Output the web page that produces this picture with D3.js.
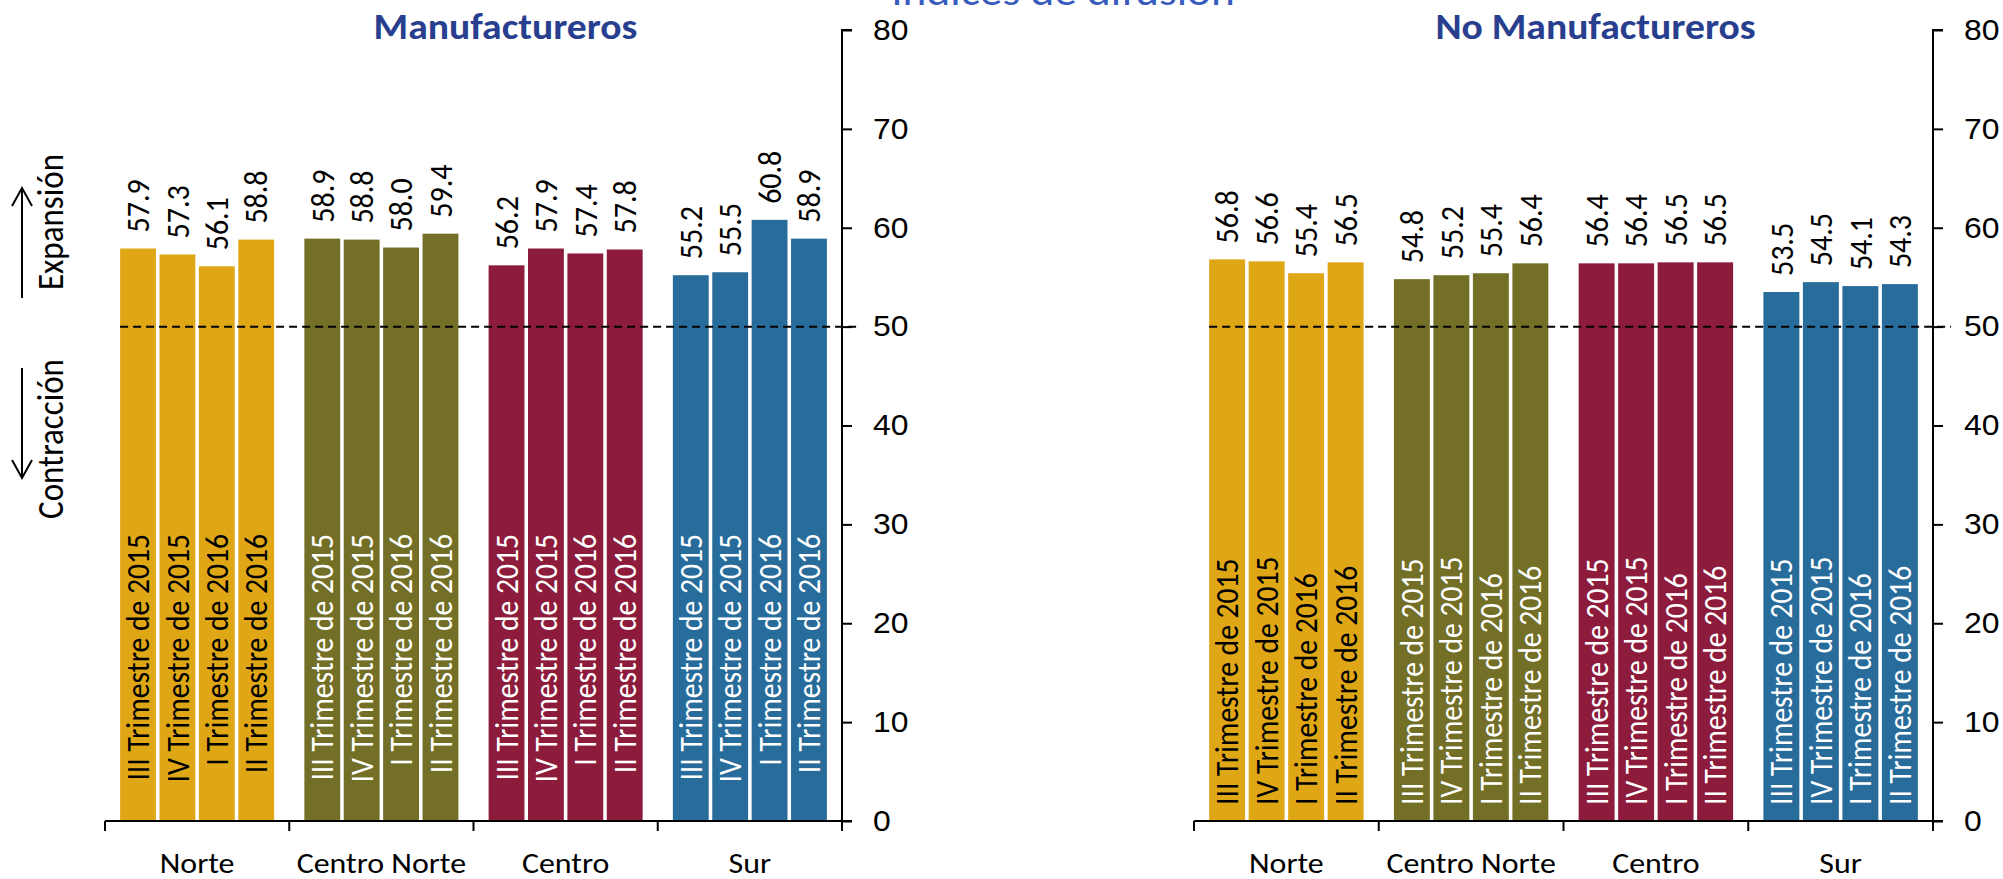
<!DOCTYPE html>
<html>
<head>
<meta charset="utf-8">
<script src="https://cdn.jsdelivr.net/npm/d3@7/dist/d3.min.js"></script>
<style>
  html, body { margin: 0; padding: 0; background: #fff; }
  svg { display: block; font-family: Carlito, Lato, "Open Sans", sans-serif; }
</style>
</head>
<body>
<svg id="chart" width="2003" height="879"></svg>
<script>
// Regions and survey periods
const regions = ["Norte", "Centro Norte", "Centro", "Sur"];
const periods = ["III Trimestre de 2015", "IV Trimestre de 2015", "I Trimestre de 2016", "II Trimestre de 2016"];

// Diffusion index by region (rows) and period (columns)
const manufValues = [
  [57.9, 57.3, 56.1, 58.8],
  [58.9, 58.8, 58.0, 59.4],
  [56.2, 57.9, 57.4, 57.8],
  [55.2, 55.5, 60.8, 58.9]
];
const noManufValues = [
  [56.8, 56.6, 55.4, 56.5],
  [54.8, 55.2, 55.4, 56.4],
  [56.4, 56.4, 56.5, 56.5],
  [53.5, 54.5, 54.1, 54.3]
];

const yTicks = [0, 10, 20, 30, 40, 50, 60, 70, 80];
const threshold = 50;

const regionFill = ["#DFA716", "#736F26", "#8D1C3C", "#286C9B"];
const regionText = ["#000000", "#ffffff", "#ffffff", "#ffffff"];
const titleBlue = "#283E8E";

// Horizontal widening applied to text so the glyph proportions read a little wider
const WIDE = 1.1;

const svg = d3.select("#chart");

// Overall title, partly above the top edge
svg.append("text")
  .attr("transform", `translate(1063,5) scale(1.08,1)`)
  .attr("text-anchor", "middle")
  .attr("font-size", 42)
  .attr("fill", "#3A5BBE")
  .text("Índices de difusión");

// Expansion / contraction guide at the left
function arrow(g, x, yFrom, yTo) {
  const dir = yTo < yFrom ? 1 : -1;
  g.append("line").attr("x1", x).attr("x2", x).attr("y1", yFrom).attr("y2", yTo)
    .attr("stroke", "#000").attr("stroke-width", 2);
  g.append("path")
    .attr("d", `M${x - 10},${yTo + dir * 18} L${x},${yTo} L${x + 10},${yTo + dir * 18}`)
    .attr("fill", "none").attr("stroke", "#000").attr("stroke-width", 2);
}
const guide = svg.append("g");
arrow(guide, 22, 298, 188);
arrow(guide, 22, 368, 478);
guide.append("text")
  .attr("transform", `translate(63,222) rotate(-90) scale(1,${WIDE})`)
  .attr("text-anchor", "middle")
  .attr("font-size", 33)
  .text("Expansión");
guide.append("text")
  .attr("transform", `translate(63,439) rotate(-90) scale(1,${WIDE})`)
  .attr("text-anchor", "middle")
  .attr("font-size", 33)
  .text("Contracción");

function drawPanel(opts) {
  const { x0, x1, values, title, inBarAnchor } = opts;
  const yTop = 30, yBottom = 821;
  const g = svg.append("g");

  const x = d3.scaleBand().domain(regions).range([x0, x1]);
  const bw = x.bandwidth();
  const xi = d3.scaleBand().domain(periods)
    .range([bw * 0.082, bw * 0.918])
    .paddingInner(0.09);
  const y = d3.scaleLinear().domain([0, 80]).range([yBottom, yTop]);

  // Title
  g.append("text")
    .attr("transform", `translate(${(x0 + x1) / 2 + 32},39) scale(${WIDE},1)`)
    .attr("text-anchor", "middle")
    .attr("font-size", 36)
    .attr("font-weight", "bold")
    .attr("fill", titleBlue)
    .text(title);

  // Bars
  const groups = g.selectAll("g.region")
    .data(regions)
    .join("g")
    .attr("class", "region")
    .attr("transform", d => `translate(${x(d)},0)`);

  groups.each(function (region, ri) {
    const rg = d3.select(this);
    const rows = periods.map((p, pi) => ({ p, v: values[ri][pi] }));

    rg.selectAll("rect")
      .data(rows)
      .join("rect")
      .attr("x", d => xi(d.p))
      .attr("width", xi.bandwidth())
      .attr("y", d => y(d.v))
      .attr("height", d => y(0) - y(d.v))
      .attr("fill", regionFill[ri]);

    // Value labels above the bars
    rg.selectAll("text.val")
      .data(rows)
      .join("text")
      .attr("class", "val")
      .attr("transform", d => `translate(${xi(d.p) + xi.bandwidth() / 2},${y(d.v) - 16}) rotate(-90) scale(1,${WIDE})`)
      .attr("dy", "0.34em")
      .attr("font-size", 30)
      .attr("fill", "#000")
      .text(d => d.v.toFixed(1));

    // Period names inside the bars
    rg.selectAll("text.per")
      .data(rows)
      .join("text")
      .attr("class", "per")
      .attr("transform", d => {
        const yy = inBarAnchor === "end" ? 534 : 805;
        return `translate(${xi(d.p) + xi.bandwidth() / 2},${yy}) rotate(-90) scale(1,${WIDE})`;
      })
      .attr("dy", "0.34em")
      .attr("text-anchor", inBarAnchor)
      .attr("font-size", 29.6)
      .attr("fill", regionText[ri])
      .text(d => d.p);
  });

  // 50-point threshold
  const firstBarX = x(regions[0]) + xi(periods[0]);
  g.append("line")
    .attr("x1", firstBarX).attr("x2", x1 + 18)
    .attr("y1", y(threshold)).attr("y2", y(threshold))
    .attr("stroke", "#000").attr("stroke-width", 2)
    .attr("stroke-dasharray", "8,5");

  // Category axis
  const xAxis = g.append("g").attr("transform", `translate(0,${yBottom})`);
  xAxis.append("line").attr("x1", x0).attr("x2", x1 + 10)
    .attr("stroke", "#000").attr("stroke-width", 2);
  const bounds = regions.map(r => x(r)).concat([x1]);
  xAxis.selectAll("line.tk").data(bounds).join("line")
    .attr("class", "tk")
    .attr("x1", d => d).attr("x2", d => d).attr("y1", 0).attr("y2", 10)
    .attr("stroke", "#000").attr("stroke-width", 2);
  xAxis.selectAll("text").data(regions).join("text")
    .attr("transform", d => `translate(${x(d) + bw / 2},52) scale(${WIDE},1)`)
    .attr("text-anchor", "middle")
    .attr("font-size", 29)
    .text(d => d);

  // Value axis on the right side of the plot
  const yAxis = d3.axisRight(y).tickValues(yTicks).tickSize(10).tickPadding(20).tickFormat(d3.format("d"));
  const ya = g.append("g").attr("transform", `translate(${x1},0)`).call(yAxis);
  ya.select(".domain").attr("d", `M10,${yTop}H0V${yBottom + 10}`).attr("stroke-width", 2);
  ya.selectAll(".tick line").attr("stroke-width", 2);
  ya.selectAll(".tick text")
    .attr("x", 31 / WIDE)
    .attr("transform", `scale(${WIDE},1)`)
    .attr("font-size", 29).attr("font-family", null).attr("fill", "#000");
}

drawPanel({ x0: 105, x1: 842, values: manufValues, title: "Manufactureros", inBarAnchor: "end" });
drawPanel({ x0: 1194, x1: 1933, values: noManufValues, title: "No Manufactureros", inBarAnchor: "start" });
</script>
</body>
</html>
